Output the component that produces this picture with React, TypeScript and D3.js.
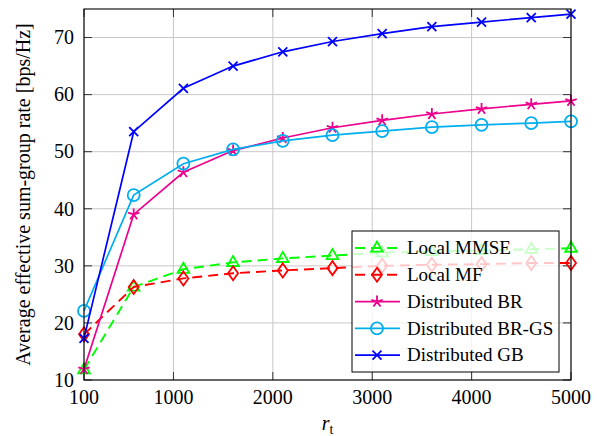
import React from "react";
import * as d3 from "d3";

const xValues = [100, 600, 1100, 1600, 2100, 2600, 3100, 3600, 4100, 4600, 5000];
const localMMSE = [11.8, 26.3, 29.4, 30.6, 31.3, 31.8, 32.3, 32.5, 32.7, 32.9, 33.1];
const localMF = [18.0, 26.3, 27.8, 28.7, 29.2, 29.6, 30.0, 30.2, 30.3, 30.5, 30.5];
const distBR = [11.9, 39.0, 46.4, 50.2, 52.4, 54.2, 55.5, 56.6, 57.5, 58.3, 58.9];
const distBRGS = [22.1, 42.4, 47.9, 50.4, 51.9, 52.9, 53.6, 54.3, 54.7, 55.0, 55.3];
const distGB = [17.3, 53.5, 61.1, 65.0, 67.5, 69.3, 70.7, 71.9, 72.7, 73.5, 74.1];
const xTicks = [100, 1000, 2000, 3000, 4000, 5000];
const yTicks = [10, 20, 30, 40, 50, 60, 70];

type Marker = "triangle" | "diamond" | "star" | "circle" | "x";
interface Series { name: string; values: number[]; color: string; dashed: boolean; marker: Marker; }

const series: Series[] = [
  { name: "Local MMSE", values: localMMSE, color: "#00ff00", dashed: true, marker: "triangle" },
  { name: "Local MF", values: localMF, color: "#ff0000", dashed: true, marker: "diamond" },
  { name: "Distributed BR", values: distBR, color: "#ec008c", dashed: false, marker: "star" },
  { name: "Distributed BR-GS", values: distBRGS, color: "#00aeef", dashed: false, marker: "circle" },
  { name: "Distributed GB", values: distGB, color: "#0000ff", dashed: false, marker: "x" },
];

const W = 597, H = 436;
const M = { left: 84, right: 571, top: 9, bottom: 380 };
const FONT = '"Liberation Serif", "DejaVu Serif", serif';

const x = d3.scaleLinear().domain([100, 5000]).range([M.left, M.right]);
const y = d3.scaleLinear().domain([10, 75]).range([M.bottom, M.top]);

function MarkerShape({ type, cx, cy, color }: { type: Marker; cx: number; cy: number; color: string }) {
  const sw = 1.8;
  switch (type) {
    case "triangle": {
      const r = 6.5;
      const pts = [[cx, cy - r], [cx - r * 0.9, cy + r * 0.55], [cx + r * 0.9, cy + r * 0.55]];
      return <polygon points={pts.map(p => p.join(",")).join(" ")} fill="none" stroke={color} strokeWidth={sw} />;
    }
    case "diamond": {
      const pts = [[cx, cy - 7], [cx + 5, cy], [cx, cy + 7], [cx - 5, cy]];
      return <polygon points={pts.map(p => p.join(",")).join(" ")} fill="none" stroke={color} strokeWidth={sw} />;
    }
    case "circle":
      return <circle cx={cx} cy={cy} r={6} fill="none" stroke={color} strokeWidth={sw} />;
    case "x": {
      const r = 4.5;
      return <path d={`M${cx - r},${cy - r}L${cx + r},${cy + r}M${cx - r},${cy + r}L${cx + r},${cy - r}`} stroke={color} strokeWidth={sw} />;
    }
    case "star": {
      const r = 6;
      let d = "";
      for (let i = 0; i < 5; i++) {
        const a = (-90 + i * 72) * Math.PI / 180;
        d += `M${cx},${cy}L${cx + r * Math.cos(a)},${cy + r * Math.sin(a)}`;
      }
      return <path d={d} stroke={color} strokeWidth={sw} />;
    }
  }
}

export default function App() {
  const line = d3.line<number>().x((_, i) => x(xValues[i])).y(v => y(v));
  const tickLen = 8;
  const legend = { x: 352, y: 231, w: 207, h: 141 };
  const legendRow = 26.8;
  const tStyle = { fontFamily: FONT };
  return (
    <svg width={W} height={H} style={{ position: "absolute", left: 0, top: 0, background: "#fff", fontFamily: FONT }}>
      {xTicks.map(t => (
        <line key={"gx" + t} x1={x(t)} x2={x(t)} y1={M.top} y2={M.bottom} stroke="#c8c8c8" strokeWidth={1} />
      ))}
      {yTicks.map(t => (
        <line key={"gy" + t} x1={M.left} x2={M.right} y1={y(t)} y2={y(t)} stroke="#c8c8c8" strokeWidth={1} />
      ))}
      {xTicks.map(t => (
        <g key={"tx" + t} stroke="#333" strokeWidth={1}>
          <line x1={x(t)} x2={x(t)} y1={M.bottom} y2={M.bottom - tickLen} />
          <line x1={x(t)} x2={x(t)} y1={M.top} y2={M.top + tickLen} />
        </g>
      ))}
      {yTicks.map(t => (
        <g key={"ty" + t} stroke="#333" strokeWidth={1}>
          <line x1={M.left} x2={M.left + tickLen} y1={y(t)} y2={y(t)} />
          <line x1={M.right} x2={M.right - tickLen} y1={y(t)} y2={y(t)} />
        </g>
      ))}
      {series.map(s => (
        <g key={s.name}>
          <path d={line(s.values) || ""} fill="none" stroke={s.color} strokeWidth={s.dashed ? 1.9 : 1.7}
            strokeDasharray={s.dashed ? "10,6" : undefined} />
          {s.values.map((v, i) => (
            <MarkerShape key={i} type={s.marker} cx={x(xValues[i])} cy={y(v)} color={s.color} />
          ))}
        </g>
      ))}
      <rect x={M.left} y={M.top} width={M.right - M.left} height={M.bottom - M.top} fill="none" stroke="#000" strokeWidth={1.1} />
      {xTicks.map(t => (
        <text key={"lx" + t} x={x(t)} y={404} fontSize={20} textAnchor="middle" style={tStyle}>{t}</text>
      ))}
      {yTicks.map(t => (
        <text key={"ly" + t} x={74} y={y(t)} dy="0.34em" fontSize={20} textAnchor="end" style={tStyle}>{t}</text>
      ))}
      <text x={(M.left + M.right) / 2} y={430} fontSize={20} textAnchor="middle" style={tStyle}>
        <tspan fontStyle="italic">r</tspan><tspan fontSize={14} dy={4}>t</tspan>
      </text>
      <text transform={`translate(30,${(M.top + M.bottom) / 2}) rotate(-90)`} fontSize={20} textAnchor="middle" style={tStyle}>
        Average effective sum-group rate [bps/Hz]
      </text>
      <g>
        <rect x={legend.x} y={legend.y} width={legend.w} height={legend.h} fill="#fff" fillOpacity={0.78} stroke="#000" strokeWidth={1} />
        {series.map((s, i) => {
          const cy = legend.y + 17 + i * legendRow;
          return (
            <g key={"lg" + s.name}>
              <line x1={legend.x + 3} x2={legend.x + 48} y1={cy} y2={cy} stroke={s.color} strokeWidth={s.dashed ? 1.9 : 1.7}
                strokeDasharray={s.dashed ? "10,6" : undefined} />
              <MarkerShape type={s.marker} cx={legend.x + 25} cy={cy} color={s.color} />
              <text x={legend.x + 55} y={cy} dy="0.33em" fontSize={19} style={tStyle}>{s.name}</text>
            </g>
          );
        })}
      </g>
    </svg>
  );
}
